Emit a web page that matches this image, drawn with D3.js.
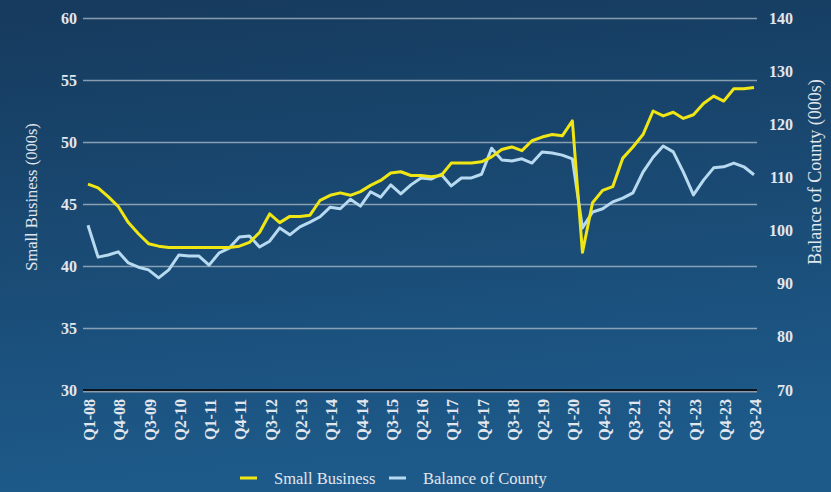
<!DOCTYPE html>
<html>
<head>
<meta charset="utf-8">
<script src="https://cdn.jsdelivr.net/npm/d3@7"></script>
<style>
  body { margin: 0; background: #1a4a74; }
  svg { display: block; }
  text { font-family: "Liberation Serif", "DejaVu Serif", serif; fill: #e2e7ee; }
</style>
</head>
<body>
<div id="graphic"></div>
<script>

// quarters Q1-08 .. Q3-24
var quarters = [];
for (var yr = 8; yr <= 24; yr++) {
	for (var q = 1; q <= 4; q++) {
		if (yr == 24 && q > 3) break;
		quarters.push("Q" + q + "-" + (yr < 10 ? "0" + yr : yr));
	}
}

// small business, left axis (000s)
var smallBusiness = [46.6, 46.3, 45.6, 44.8, 43.5, 42.6, 41.8, 41.6, 41.5, 41.5,
	41.5, 41.5, 41.5, 41.5, 41.5, 41.6, 41.9, 42.7, 44.2, 43.5,
	44.0, 44.0, 44.1, 45.3, 45.7, 45.9, 45.7, 46.0, 46.5, 46.9,
	47.5, 47.6, 47.3, 47.3, 47.2, 47.3, 48.3, 48.3, 48.3, 48.4,
	48.8, 49.4, 49.6, 49.3, 50.1, 50.4, 50.6, 50.5, 51.7, 41.1,
	45.1, 46.1, 46.4, 48.7, 49.6, 50.6, 52.5, 52.1, 52.4, 51.9,
	52.2, 53.1, 53.7, 53.3, 54.3, 54.3, 54.4];

// balance of county, right axis (000s)
var balanceCounty = [101.0, 95.0, 95.4, 96.0, 93.9, 93.1, 92.6, 91.1, 92.6, 95.4,
	95.2, 95.2, 93.5, 95.8, 96.7, 98.8, 99.0, 96.9, 98.0, 100.5,
	99.2, 100.7, 101.6, 102.6, 104.4, 104.1, 105.9, 104.6, 107.3, 106.3,
	108.6, 106.9, 108.6, 109.9, 109.7, 110.6, 108.4, 109.9, 109.9, 110.6,
	115.5, 113.3, 113.1, 113.5, 112.7, 114.8, 114.6, 114.2, 113.5, 100.5,
	103.5, 104.1, 105.4, 106.1, 107.1, 111.0, 113.8, 115.9, 114.8, 111.0,
	106.7, 109.5, 111.8, 112.0, 112.7, 112.0, 110.5];

var leftTicks = [30, 35, 40, 45, 50, 55, 60];
var rightTicks = [70, 80, 90, 100, 110, 120, 130, 140];
var xTicks = quarters.filter(function(d, i) { return i % 3 == 0; });

var width = 831, height = 492;
var plotLeft = 83, plotRight = 757, plotTop = 18, plotBottom = 390;

var svg = d3.select("#graphic").append("svg")
	.attr("width", width)
	.attr("height", height);

var defs = svg.append("defs");
var grad = defs.append("linearGradient")
	.attr("id", "bg")
	.attr("x1", "0").attr("y1", "0")
	.attr("x2", "0.15").attr("y2", "1");
grad.append("stop").attr("offset", "0%").attr("stop-color", "#163a5d");
grad.append("stop").attr("offset", "100%").attr("stop-color", "#1d5a8a");

svg.append("rect")
	.attr("width", width)
	.attr("height", height)
	.attr("fill", "url(#bg)");

var x = d3.scalePoint()
	.domain(quarters)
	.range([88, 754]);

var yLeft = d3.scaleLinear()
	.domain([30, 60])
	.range([plotBottom, plotTop]);

var yRight = d3.scaleLinear()
	.domain([70, 140])
	.range([plotBottom, plotTop]);

// left axis + gridlines
var gLeft = svg.append("g")
	.attr("transform", "translate(" + plotLeft + ",0)")
	.call(d3.axisLeft(yLeft)
		.tickValues(leftTicks)
		.tickSize(-(plotRight - plotLeft))
		.tickPadding(6));

gLeft.select(".domain").remove();
gLeft.selectAll("line")
	.attr("stroke", "#b9c4d0")
	.attr("stroke-opacity", 0.7)
	.attr("stroke-width", 1.5)
	.filter(function(d) { return d == 30; })
	.remove();
gLeft.selectAll("text")
	.style("font-size", "16px")
	.style("font-weight", "bold");

// right axis
var gRight = svg.append("g")
	.attr("transform", "translate(" + plotRight + ",0)")
	.call(d3.axisRight(yRight)
		.tickValues(rightTicks)
		.tickSize(0));

gRight.select(".domain").remove();
gRight.selectAll("text")
	.attr("x", 36)
	.attr("text-anchor", "end")
	.style("font-size", "16px")
	.style("font-weight", "bold");

// baseline
svg.append("line")
	.attr("x1", plotLeft).attr("x2", plotRight)
	.attr("y1", plotBottom + 1.8).attr("y2", plotBottom + 1.8)
	.attr("stroke", "#8d9aa8")
	.attr("stroke-width", 1.5);
svg.append("line")
	.attr("x1", plotLeft).attr("x2", plotRight)
	.attr("y1", plotBottom).attr("y2", plotBottom)
	.attr("stroke", "#0b1520")
	.attr("stroke-width", 2);

// x axis
var gX = svg.append("g")
	.attr("transform", "translate(0," + plotBottom + ")")
	.call(d3.axisBottom(x)
		.tickValues(xTicks)
		.tickSize(0));

gX.select(".domain").remove();
gX.selectAll("text")
	.attr("transform", "rotate(-90)")
	.attr("text-anchor", "end")
	.attr("x", -9)
	.attr("y", 1)
	.attr("dy", "0.35em")
	.style("font-size", "16px")
	.style("font-weight", "bold");

// axis titles
svg.append("text")
	.attr("transform", "translate(37,197) rotate(-90)")
	.attr("text-anchor", "middle")
	.style("font-size", "16.5px")
	.text("Small Business (000s)");

svg.append("text")
	.attr("transform", "translate(821,172) rotate(-90)")
	.attr("text-anchor", "middle")
	.style("font-size", "18px")
	.text("Balance of County (000s)");

// lines
var lineLeft = d3.line()
	.x(function(d, i) { return x(quarters[i]); })
	.y(function(d) { return yLeft(d); });

var lineRight = d3.line()
	.x(function(d, i) { return x(quarters[i]); })
	.y(function(d) { return yRight(d); });

svg.append("path")
	.datum(balanceCounty)
	.attr("fill", "none")
	.attr("stroke", "#b7daf0")
	.attr("stroke-width", 3)
	.attr("stroke-linejoin", "round")
	.attr("d", lineRight);

svg.append("path")
	.datum(smallBusiness)
	.attr("fill", "none")
	.attr("stroke", "#f0e614")
	.attr("stroke-width", 3)
	.attr("stroke-linejoin", "round")
	.attr("d", lineLeft);

// legend
var legendItems = [
	{label: "Small Business", color: "#f0e614", x: 240},
	{label: "Balance of County", color: "#b7daf0", x: 389}
];

var legend = svg.selectAll(".legend")
	.data(legendItems)
	.enter().append("g")
	.attr("class", "legend")
	.attr("transform", function(d) { return "translate(" + d.x + ",478)"; });

legend.append("line")
	.attr("x1", 0).attr("x2", 17)
	.attr("stroke", function(d) { return d.color; })
	.attr("stroke-width", 3);

legend.append("text")
	.attr("x", 34)
	.attr("dy", "0.35em")
	.style("font-size", "16.5px")
	.text(function(d) { return d.label; });

</script>
</body>
</html>
